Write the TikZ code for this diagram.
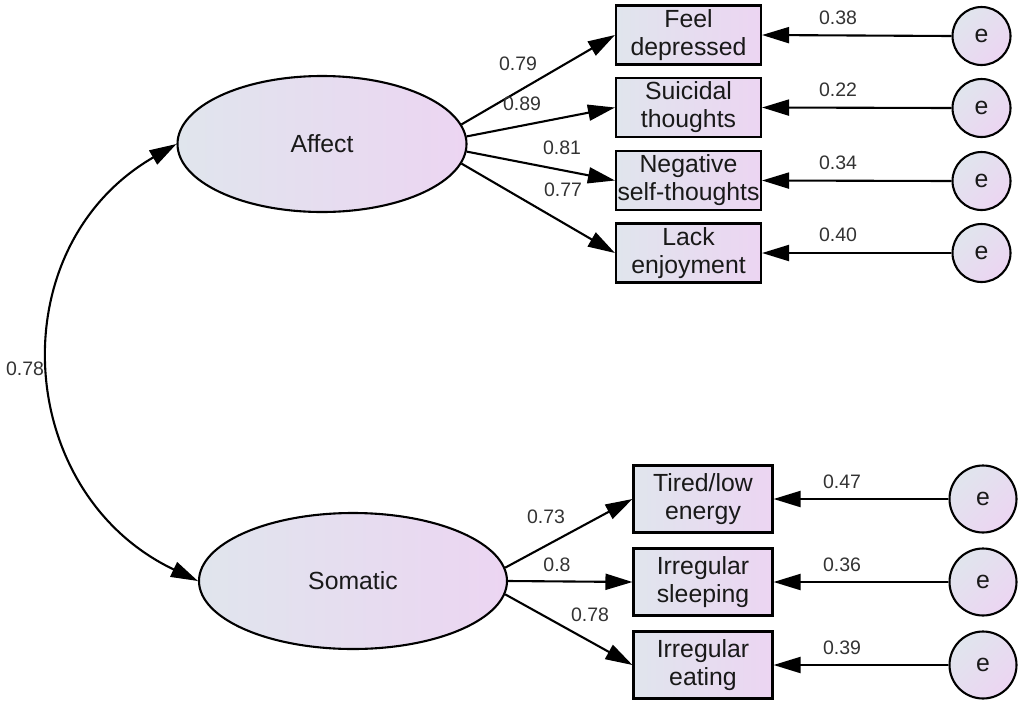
\documentclass[tikz,border=0pt]{standalone}
\usepackage{fontspec}
\setmainfont{Liberation Sans}
\usetikzlibrary{arrows.meta,shapes.geometric}
\definecolor{lc}{RGB}{224,229,237}
\definecolor{rc}{RGB}{236,213,242}
\begin{document}
\begin{tikzpicture}[x=1pt,y=-1pt,
  every node/.style={font=\fontsize{24.8}{28}\selectfont, text=black!90},
  lat/.style={ellipse, draw, line width=2.1pt, left color=lc, right color=rc, inner sep=0pt},
  obs/.style={rectangle, draw, line width=2.1pt, left color=lc, right color=rc, align=center, inner sep=0pt},
  err/.style={circle, draw, line width=2.1pt, top color=lc, bottom color=rc, shading angle=45, inner sep=0pt},
  lab/.style={font=\fontsize{19.5}{22}\selectfont, text=black!80, inner sep=0pt},
  arr/.style={line width=2.1pt, -{Triangle[length=27pt,width=16pt]}},
  dblarr/.style={line width=2.1pt, {Triangle[length=27pt,width=16pt]}-{Triangle[length=27pt,width=16pt]}},
]
\useasboundingbox (0,0) rectangle (1018,702);

% latent variables
\node[lat, minimum width=289, minimum height=136] (A) at (322,144) {Affect};
\node[lat, minimum width=308, minimum height=136] (S) at (353,581) {Somatic};

% observed (Affect)
\node[obs, minimum width=145, minimum height=59] (o1) at (688.5,35) {Feel\\depressed};
\node[obs, minimum width=145, minimum height=59] (o2) at (688.5,107.5) {Suicidal\\thoughts};
\node[obs, minimum width=145, minimum height=59] (o3) at (688.5,180.5) {Negative\\self-thoughts};
\node[obs, minimum width=145, minimum height=59] (o4) at (688.5,253) {Lack\\enjoyment};
% observed (Somatic)
\node[obs, minimum width=139, minimum height=67] (o5) at (703,499) {Tired/low\\energy};
\node[obs, minimum width=139, minimum height=67] (o6) at (703,582) {Irregular\\sleeping};
\node[obs, minimum width=139, minimum height=67] (o7) at (703,665) {Irregular\\eating};

% errors
\node[err, minimum size=58] (e1) at (981.5,36) {e};
\node[err, minimum size=58] (e2) at (981.5,108) {e};
\node[err, minimum size=58] (e3) at (981.5,181) {e};
\node[err, minimum size=58] (e4) at (981.5,253) {e};
\node[err, minimum size=67] (e5) at (983,499) {e};
\node[err, minimum size=67] (e6) at (983,582) {e};
\node[err, minimum size=67] (e7) at (983,665) {e};

% loadings
\draw[arr] (A.8) -- (o1.west);
\draw[arr] (A.3) -- (o2.west);
\draw[arr] (A.-3) -- (o3.west);
\draw[arr] (A.-8) -- (o4.west);
\draw[arr] (S.5) -- (o5.west);
\draw[arr] (S.east) -- (o6.west);
\draw[arr] (S.-5) -- (o7.west);

% residuals
\foreach \i in {1,...,7}{\draw[arr] (e\i.west) -- (o\i.east);}

% covariance
\draw[dblarr] (A.west) .. controls +(-178,103) and +(-185,-88) .. (S.west);

% labels
\node[lab] (l1) at (518,64) {0.79};
\node[lab] (l2) at (522,104) {0.89};
\node[lab] (l3) at (562,148) {0.81};
\node[lab] (l4) at (563,190) {0.77};
\node[lab] (l5) at (546,517) {0.73};
\node[lab] (l6) at (557,565) {0.8};
\node[lab] (l7) at (590,615) {0.78};
\node[lab] (r1) at (838,18) {0.38};
\node[lab] (r2) at (838,90) {0.22};
\node[lab] (r3) at (838,163) {0.34};
\node[lab] (r4) at (838,235) {0.40};
\node[lab] (r5) at (842,482) {0.47};
\node[lab] (r6) at (842,565) {0.36};
\node[lab] (r7) at (842,648) {0.39};
\node[lab] (c1) at (25,369) {0.78};
\end{tikzpicture}
\end{document}
